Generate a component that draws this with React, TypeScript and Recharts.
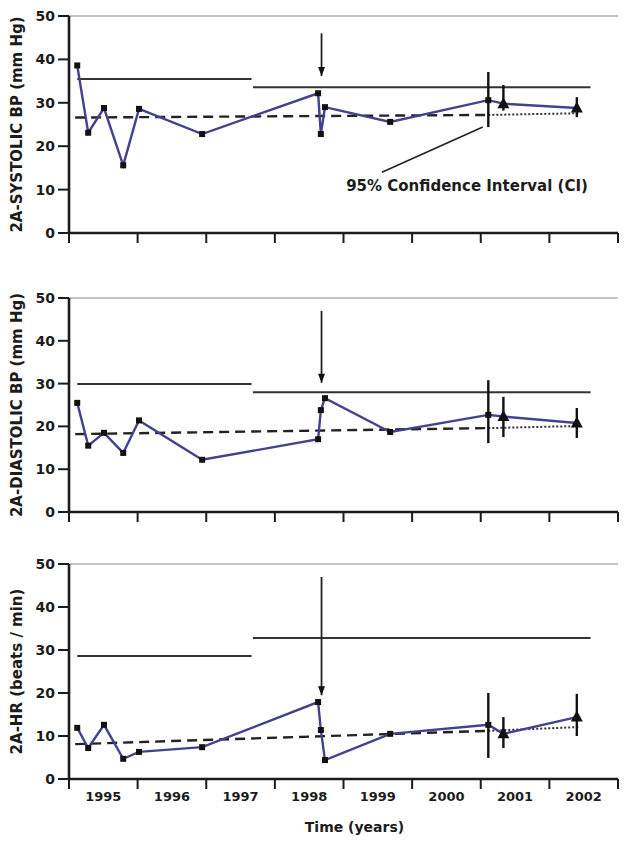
import React from 'react';
import {
  ComposedChart,
  Line,
  Scatter,
  ErrorBar,
  XAxis,
  YAxis,
  ReferenceLine,
  ReferenceDot,
} from 'recharts';

// visit dates (decimal years) shared by the three panels
const VISIT_YEARS = [1994.62, 1994.78, 1995.01, 1995.29, 1995.52, 1996.44, 1998.13, 1998.17, 1998.23, 1999.18, 2000.61, 2000.83, 2001.9];
const SYSTOLIC = [38.6, 23.1, 28.8, 15.6, 28.6, 22.8, 32.2, 22.8, 29.0, 25.6, 30.6, 29.8, 28.8];
const DIASTOLIC = [25.5, 15.5, 18.5, 13.8, 21.4, 12.2, 17.0, 23.8, 26.6, 18.7, 22.7, 22.3, 20.8];
const HEART_RATE = [11.9, 7.2, 12.6, 4.7, 6.3, 7.4, 17.9, 11.4, 4.4, 10.5, 12.6, 10.5, 14.4];

// 95% CI on the last three visits
const SYSTOLIC_CI_LOW = [24.4, 28.2, 26.7];
const SYSTOLIC_CI_HIGH = [37.1, 34.1, 31.3];
const DIASTOLIC_CI_LOW = [16.1, 17.5, 17.3];
const DIASTOLIC_CI_HIGH = [30.8, 26.9, 24.3];
const HEART_RATE_CI_LOW = [4.9, 7.2, 10.0];
const HEART_RATE_CI_HIGH = [20.0, 14.4, 19.8];

// upper limit segments: [start, end] of first and second period
const LIMIT_A_YEARS = [1994.62, 1997.16];
const LIMIT_B_YEARS = [1997.18, 2002.1];
const SYSTOLIC_LIMITS = [35.5, 33.6];
const DIASTOLIC_LIMITS = [29.9, 28.0];
const HEART_RATE_LIMITS = [28.6, 32.8];

// regression (dashed) and projection (dotted)
const TREND_YEARS = [1994.59, 2000.61];
const PROJ_YEARS = [2000.61, 2001.95];
const SYSTOLIC_TREND = [26.6, 27.2];
const SYSTOLIC_PROJ = [27.2, 27.6];
const DIASTOLIC_TREND = [18.2, 19.6];
const DIASTOLIC_PROJ = [19.6, 20.1];
const HEART_RATE_TREND = [8.1, 11.2];
const HEART_RATE_PROJ = [11.2, 12.1];

// intervention arrow
const ARROW_YEAR = 1998.18;
const SYSTOLIC_ARROW = [46, 36.2];
const DIASTOLIC_ARROW = [47, 30.2];
const HEART_RATE_ARROW = [47, 19.5];

// CI annotation pointer
const NOTE_YEARS = [1999.06, 2000.53];
const NOTE_VALUES = [14.0, 24.4];
const NOTE_TEXT_AT = [2000.3, 11.0];

const YEAR_LABELS = [1995, 1996, 1997, 1998, 1999, 2000, 2001, 2002];
const YEAR_BOUNDS = [1994.5, 1995.5, 1996.5, 1997.5, 1998.5, 1999.5, 2000.5, 2001.5, 2002.5];
const Y_TICKS = [0, 10, 20, 30, 40, 50];

const FONT = '"DejaVu Sans", "Liberation Sans", Arial, sans-serif';
const NAVY = '#42428f';
const INK = '#1c1c1c';

const pts = (xs: number[], ys: number[]) => xs.map((x, i) => ({ x, y: ys[i] }));

const renderVisitDot = (p: any) => {
  const { cx, cy, index } = p;
  if (index >= VISIT_YEARS.length - 2) {
    return (
      <polygon
        key={`v${index}`}
        points={`${cx},${cy - 6.5} ${cx - 6},${cy + 4.5} ${cx + 6},${cy + 4.5}`}
        fill="#111"
      />
    );
  }
  return <rect key={`v${index}`} x={cx - 3} y={cy - 3} width={6} height={6} fill="#111" />;
};

const renderArrowHead = (p: any) => {
  const { cx, cy, index } = p;
  if (index !== 1) return <g key={`a${index}`} />;
  return (
    <polygon key={`a${index}`} points={`${cx},${cy} ${cx - 3.5},${cy - 9} ${cx + 3.5},${cy - 9}`} fill="#111" />
  );
};

interface PanelProps {
  top: number;
  plotHeight: number;
  axisHeight: number;
  yLabel: string;
  values: number[];
  ciLow: number[];
  ciHigh: number[];
  limits: number[];
  trend: number[];
  proj: number[];
  arrow: number[];
  showYears?: boolean;
  note?: boolean;
}

function Panel({
  top, plotHeight, axisHeight, yLabel, values, ciLow, ciHigh,
  limits, trend, proj, arrow, showYears, note,
}: PanelProps) {
  const marginTop = 16;
  const height = marginTop + plotHeight + axisHeight;
  const series = pts(VISIT_YEARS, values);
  const ci = series.slice(-3).map((d, i) => ({ ...d, err: [d.y - ciLow[i], ciHigh[i] - d.y] }));

  const renderTick = (p: any) => {
    const { x, y, payload } = p;
    const v = payload.value;
    if (!Number.isInteger(v)) {
      return <line x1={x} x2={x} y1={y} y2={y + 10} stroke={INK} strokeWidth={2} />;
    }
    if (!showYears) return <g />;
    return (
      <text x={x} y={y + 22} textAnchor="middle" fontFamily={FONT} fontWeight="bold" fontSize={13} fill={INK}>
        {v}
      </text>
    );
  };

  return (
    <div style={{ position: 'absolute', left: 0, top }}>
      <ComposedChart width={628} height={height} margin={{ top: marginTop, right: 10, bottom: 0, left: 0 }}>
        <XAxis
          type="number"
          dataKey="x"
          domain={[1994.5, 2002.5]}
          ticks={[...YEAR_BOUNDS, ...YEAR_LABELS].sort((a, b) => a - b)}
          interval={0}
          allowDataOverflow
          tickLine={false}
          tickSize={0}
          tickMargin={0}
          tick={renderTick}
          height={axisHeight}
          axisLine={{ stroke: INK, strokeWidth: 2.6 }}
          label={
            showYears
              ? {
                  value: 'Time (years)',
                  position: 'insideBottom',
                  offset: 9,
                  dx: 11,
                  fontFamily: FONT,
                  fontWeight: 'bold',
                  fontSize: 14,
                  fill: INK,
                }
              : undefined
          }
        />
        <YAxis
          type="number"
          domain={[0, 50]}
          ticks={Y_TICKS}
          interval={0}
          width={69}
          tickSize={11}
          tickMargin={3}
          tick={{ fontFamily: FONT, fontWeight: 'bold', fontSize: 14, fill: INK }}
          tickLine={{ stroke: INK, strokeWidth: 2 }}
          axisLine={{ stroke: INK, strokeWidth: 2.6 }}
          label={{
            value: yLabel,
            angle: -90,
            position: 'insideLeft',
            offset: 17,
            style: { textAnchor: 'middle' },
            fontFamily: FONT,
            fontWeight: 'bold',
            fontSize: 15,
            fill: INK,
          }}
        />
        <ReferenceLine y={50} stroke="#c4c4c4" strokeWidth={2} />

        <Line data={pts(LIMIT_A_YEARS, [limits[0], limits[0]])} dataKey="y" name="limitA" stroke="#333" strokeWidth={2} dot={false} isAnimationActive={false} />
        <Line data={pts(LIMIT_B_YEARS, [limits[1], limits[1]])} dataKey="y" name="limitB" stroke="#333" strokeWidth={2} dot={false} isAnimationActive={false} />
        <Line data={pts(TREND_YEARS, trend)} dataKey="y" name="trend" stroke="#222" strokeWidth={2.4} strokeDasharray="10 6" dot={false} isAnimationActive={false} />
        <Line data={pts(PROJ_YEARS, proj)} dataKey="y" name="proj" stroke="#333" strokeWidth={2} strokeDasharray="2 2" dot={false} isAnimationActive={false} />

        <Line data={series} dataKey="y" name="visits" type="linear" stroke={NAVY} strokeWidth={2.4} dot={renderVisitDot} isAnimationActive={false} />

        <Scatter data={ci} dataKey="y" name="ci" shape={() => <g />} isAnimationActive={false}>
          <ErrorBar dataKey="err" direction="y" width={0} stroke="#111" strokeWidth={2.4} isAnimationActive={false} />
        </Scatter>

        <Line data={pts([ARROW_YEAR, ARROW_YEAR], arrow)} dataKey="y" name="arrow" stroke="#222" strokeWidth={1.8} dot={renderArrowHead} isAnimationActive={false} />

        {note && (
          <Line data={pts(NOTE_YEARS, NOTE_VALUES)} dataKey="y" name="note" stroke="#222" strokeWidth={1.6} dot={false} isAnimationActive={false} />
        )}
        {note && (
          <ReferenceDot
            x={NOTE_TEXT_AT[0]}
            y={NOTE_TEXT_AT[1]}
            r={0}
            fill="none"
            stroke="none"
            label={{
              value: '95% Confidence Interval (CI)',
              position: 'center',
              fontFamily: FONT,
              fontWeight: 'bold',
              fontSize: 15,
              fill: INK,
            }}
          />
        )}
      </ComposedChart>
    </div>
  );
}

export default function App() {
  return (
    <div style={{ position: 'absolute', left: 0, top: 0, width: 628, height: 841, background: '#fff' }}>
      <Panel
        top={0}
        plotHeight={217}
        axisHeight={20}
        yLabel="2A-SYSTOLIC BP (mm Hg)"
        values={SYSTOLIC}
        ciLow={SYSTOLIC_CI_LOW}
        ciHigh={SYSTOLIC_CI_HIGH}
        limits={SYSTOLIC_LIMITS}
        trend={SYSTOLIC_TREND}
        proj={SYSTOLIC_PROJ}
        arrow={SYSTOLIC_ARROW}
        note
      />
      <Panel
        top={282}
        plotHeight={214}
        axisHeight={20}
        yLabel="2A-DIASTOLIC BP (mm Hg)"
        values={DIASTOLIC}
        ciLow={DIASTOLIC_CI_LOW}
        ciHigh={DIASTOLIC_CI_HIGH}
        limits={DIASTOLIC_LIMITS}
        trend={DIASTOLIC_TREND}
        proj={DIASTOLIC_PROJ}
        arrow={DIASTOLIC_ARROW}
      />
      <Panel
        top={548}
        plotHeight={215}
        axisHeight={62}
        yLabel="2A-HR (beats / min)"
        values={HEART_RATE}
        ciLow={HEART_RATE_CI_LOW}
        ciHigh={HEART_RATE_CI_HIGH}
        limits={HEART_RATE_LIMITS}
        trend={HEART_RATE_TREND}
        proj={HEART_RATE_PROJ}
        arrow={HEART_RATE_ARROW}
        showYears
      />
    </div>
  );
}
